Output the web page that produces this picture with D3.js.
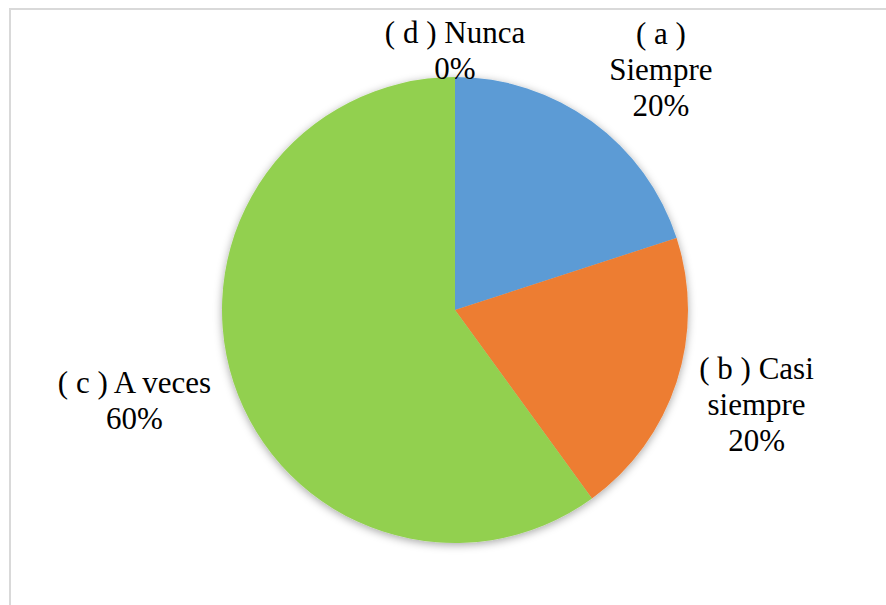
<!DOCTYPE html>
<html>
<head>
<meta charset="utf-8">
<script src="https://cdn.jsdelivr.net/npm/d3@7"></script>
<style>
  html, body { margin: 0; padding: 0; background: #ffffff; }
  svg { display: block; }
</style>
</head>
<body>
<svg id="chart" width="886" height="605"></svg>
<script>
// Survey answers and their shares (percent)
const categories = ["( a ) Siempre", "( b ) Casi siempre", "( c ) A veces", "( d ) Nunca"];
const values = [20, 20, 60, 0];
const colors = ["#5B9BD5", "#ED7D31", "#92D050", "#A5A5A5"];
// Label text broken into lines as shown beside each slice
const labelLines = [
  ["( a )", "Siempre"],
  ["( b ) Casi", "siempre"],
  ["( c ) A veces"],
  ["( d ) Nunca"]
];

const width = 886, height = 605;
const cx = 455, cy = 310, radius = 233;
const fontSize = 31, lineStep = 36;
const serif = "'Liberation Serif'";

// Distance of each label block from the centre and a small angular nudge (degrees)
const labelLayout = [
  { r: 317, nudge: 4.5 },
  { r: 316, nudge: -0.6 },
  { r: 333, nudge: 2.3 },
  { r: 260, nudge: 0 }
];

const svg = d3.select("#chart");

// Drop shadow under the pie
const defs = svg.append("defs");
const shadow = defs.append("filter")
  .attr("id", "pieShadow")
  .attr("x", "-20%").attr("y", "-20%")
  .attr("width", "140%").attr("height", "140%");
shadow.append("feDropShadow")
  .attr("dx", 0).attr("dy", 2)
  .attr("stdDeviation", 4)
  .attr("flood-color", "#000000")
  .attr("flood-opacity", 0.35);

// Chart area frame
svg.append("rect")
  .attr("x", 10).attr("y", 9)
  .attr("width", width + 20).attr("height", height + 20)
  .attr("fill", "#ffffff")
  .attr("stroke", "#d9d9d9")
  .attr("stroke-width", 2);

const data = categories.map((c, i) => ({ name: c, value: values[i], color: colors[i], index: i }));

const pie = d3.pie()
  .value(d => d.value)
  .sort(null)
  .startAngle(0)
  .endAngle(2 * Math.PI);

const arcs = pie(data);
const arc = d3.arc().innerRadius(0).outerRadius(radius);

const g = svg.append("g").attr("transform", `translate(${cx},${cy})`);

g.append("g")
  .attr("filter", "url(#pieShadow)")
  .selectAll("path")
  .data(arcs.filter(a => a.data.value > 0))
  .join("path")
  .attr("d", arc)
  .attr("fill", d => d.data.color);

// Data labels: category lines followed by the percentage
const total = d3.sum(values);
const fmt = d3.format(".0%");

g.append("g")
  .selectAll("text")
  .data(arcs)
  .join("text")
  .attr("text-anchor", "middle")
  .style("font-family", serif)
  .style("font-size", fontSize + "px")
  .attr("fill", "#000000")
  .each(function (d) {
    const i = d.index;
    const mid = (d.startAngle + d.endAngle) / 2;
    const lay = labelLayout[i];
    const [lx, ly] = d3.pointRadial(mid + lay.nudge * Math.PI / 180, lay.r);
    const lines = labelLines[i].concat([fmt(d.data.value / total)]);
    const n = lines.length;
    const sel = d3.select(this);
    lines.forEach((t, k) => {
      sel.append("tspan")
        .attr("x", lx)
        .attr("y", ly + (k - (n - 1) / 2) * lineStep + fontSize * 0.34)
        .style("font-family", serif)
        .text(t);
    });
  });
</script>
</body>
</html>
